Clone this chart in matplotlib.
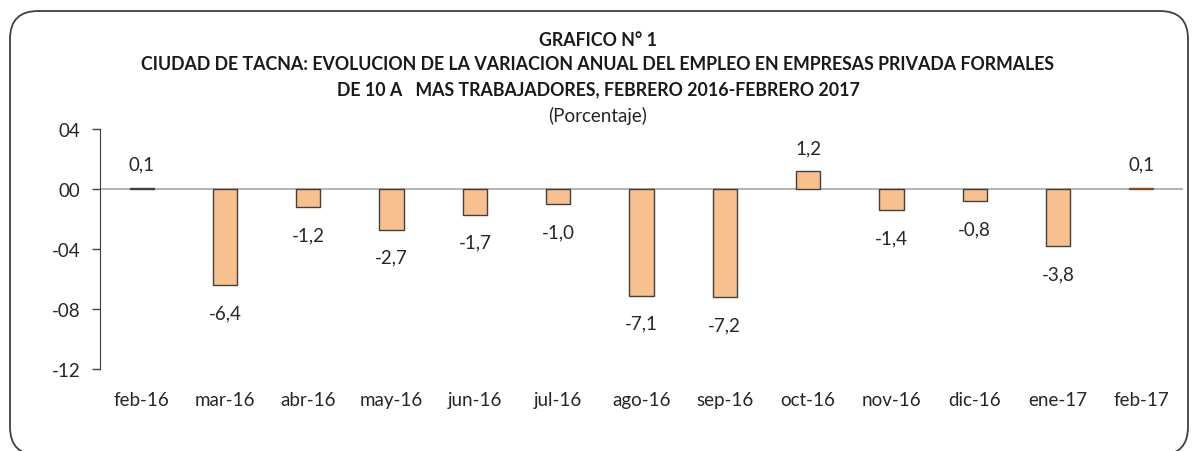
import matplotlib.pyplot as plt
import numpy as np
from matplotlib.patches import FancyBboxPatch
from matplotlib.transforms import IdentityTransform

plt.rcParams['font.family'] = ['Lato', 'DejaVu Sans']

# data
months = ['feb-16', 'mar-16', 'abr-16', 'may-16', 'jun-16', 'jul-16', 'ago-16',
          'sep-16', 'oct-16', 'nov-16', 'dic-16', 'ene-17', 'feb-17']
values = [0.1, -6.4, -1.2, -2.7, -1.7, -1.0, -7.1, -7.2, 1.2, -1.4, -0.8, -3.8, 0.1]
yticks = [4, 0, -4, -8, -12]
ytick_labels = ['04', '00', '-04', '-08', '-12']

W, H = 1195, 452
fig = plt.figure(figsize=(W / 100, H / 100), dpi=100)

# rounded frame round the chart (pixel units), bottom edge just off the picture
frame = FancyBboxPatch((10, -4), 1188 - 10, 440 + 4,
                       boxstyle='round,pad=0,rounding_size=28',
                       transform=IdentityTransform(), fill=False,
                       edgecolor='#404040', linewidth=1.3)
fig.patches.append(frame)

ax = fig.add_axes([100 / W, 1 - 370 / H, (1183 - 100) / W, (370 - 130) / H])
x = np.arange(len(months))
edge = ['#404040'] * len(values)
edge[-1] = '#8B4A1A'
ax.bar(x, values, width=0.29, color='#F9C08F', edgecolor=edge, linewidth=1.0, zorder=3)
ax.axhline(0, color='#A6A6A6', linewidth=1.2, zorder=2)

fs = 13.5
for xi, v in zip(x, values):
    lab = '{:.1f}'.format(v).replace('.', ',')
    if v >= 0:
        ax.annotate(lab, (xi, v), xytext=(0, 17), textcoords='offset points',
                    ha='center', va='center', fontsize=fs, color='#262626')
    else:
        ax.annotate(lab, (xi, v), xytext=(0, -20), textcoords='offset points',
                    ha='center', va='center', fontsize=fs, color='#262626')

ax.set_xlim(-0.5, len(months) - 0.5)
ax.set_ylim(-12, 4)
ax.set_yticks(yticks)
ax.set_yticklabels(ytick_labels, fontsize=fs, color='#262626')
ax.set_xticks(x)
ax.set_xticklabels(months, fontsize=fs, color='#262626')
ax.tick_params(axis='x', length=0, pad=16)
ax.tick_params(axis='y', length=6, width=1, color='#404040', pad=8)
for s in ['top', 'right', 'bottom']:
    ax.spines[s].set_visible(False)
ax.spines['left'].set_color('#404040')
ax.patch.set_alpha(0)

tfs = 12.8
fig.text(598 / W, 1 - 40 / H, 'GRAFICO N° 1', ha='center', va='center',
         fontsize=tfs, fontweight='bold', color='#1a1a1a')
fig.text(598 / W, 1 - 64 / H,
         'CIUDAD DE TACNA: EVOLUCION DE LA VARIACION ANUAL DEL EMPLEO EN EMPRESAS PRIVADA FORMALES',
         ha='center', va='center', fontsize=tfs, fontweight='bold', color='#1a1a1a')
fig.text(598 / W, 1 - 90 / H,
         'DE 10 A   MAS TRABAJADORES, FEBRERO 2016-FEBRERO 2017',
         ha='center', va='center', fontsize=tfs, fontweight='bold', color='#1a1a1a')
fig.text(598 / W, 1 - 116 / H, '(Porcentaje)', ha='center', va='center',
         fontsize=fs, color='#262626')

fig.savefig('out.png', dpi=100)
